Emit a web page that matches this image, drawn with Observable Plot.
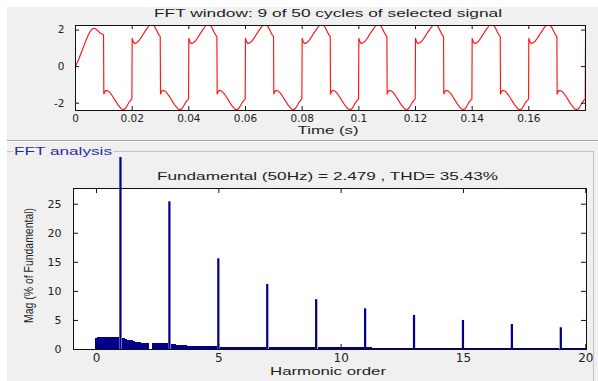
<!DOCTYPE html>
<html><head><meta charset="utf-8">
<script src="https://cdn.jsdelivr.net/npm/d3@7"></script>
<script src="https://cdn.jsdelivr.net/npm/@observablehq/plot@0.6"></script>
<style>
html,body{margin:0;padding:0;background:#fff;}
#root{position:relative;width:598px;height:381px;overflow:hidden;background:#fff;}
.panel{position:absolute;left:7px;top:7px;width:591px;height:374px;background:#f0f0f0;}
.ln{position:absolute;}
#root svg{position:absolute;left:0;}
</style></head><body><div id="root"><div class="panel"></div>
<div class="ln" style="left:7px;top:140px;width:591px;height:1px;background:#a0a0a0"></div>
<div class="ln" style="left:7px;top:141px;width:591px;height:1px;background:#ffffff"></div>
<div class="ln" style="left:7px;top:151px;width:6px;height:1px;background:#c4c4c4"></div>
<div class="ln" style="left:113px;top:151px;width:481px;height:1px;background:#c4c4c4"></div>
<div class="ln" style="left:593px;top:151px;width:1px;height:230px;background:#c4c4c4"></div>
</div>
<script>
// ---------- data: time signal (one FFT window of 9 cycles) ----------
const timeTicks = [0, 0.02, 0.04, 0.06, 0.08, 0.1, 0.12, 0.14, 0.16];
const ampTicks = [-2, 0, 2];
// first (start-up) half cycle, 0..0.01 s
const firstHalfT = [0, 0.0010, 0.0020, 0.0030, 0.0040, 0.0050, 0.0058, 0.0064, 0.0070, 0.0078, 0.0086, 0.0094, 0.0099];
const firstHalfV = [0, 0.35, 0.75, 1.15, 1.55, 1.88, 2.05, 2.10, 2.08, 1.98, 1.85, 1.78, 1.74];
// steady half cycle shape (phase within half period, s)
const halfPhase = [0, 0.0004, 0.0008, 0.0015, 0.0023, 0.0032, 0.0042, 0.0052, 0.0061, 0.0068, 0.0075, 0.0082, 0.0089, 0.0095, 0.0099];
const posHalfV  = [1.55, 1.35, 1.27, 1.30, 1.40, 1.60, 1.85, 2.08, 2.25, 2.32, 2.28, 2.12, 1.90, 1.72, 1.65];
const negHalfV  = [-1.50, -1.35, -1.30, -1.33, -1.45, -1.65, -1.90, -2.14, -2.30, -2.36, -2.31, -2.14, -1.95, -1.83, -1.78];
const nCycles = 9;

// ---------- data: FFT spectrum, bins every 1/9 harmonic (rows = one harmonic order each) ----------
const binsPerHarmonic = 9;
const fftMag = [
  1.84, 2.12, 2.13, 2.13, 2.12, 2.12, 2.10, 2.05, 1.98,
  100,  1.84, 1.75, 1.62, 1.50, 1.38, 1.27, 1.18, 1.10,
  1.04, 0.98, 0,    0.95, 0.95, 0.96, 0.98, 1.00, 1.04,
  25.4, 0.82, 0.78, 0.74, 0.70, 0.66, 0.62, 0.59, 0.57,
  0.55, 0.54, 0.53, 0.53, 0.52, 0.52, 0.52, 0.51, 0.51,
  15.6, 0.42, 0.41, 0.41, 0.40, 0.40, 0.40, 0.32, 0.31,
  0.31, 0.31, 0.30, 0.30, 0.30, 0.30, 0.30, 0.30, 0.30,
  11.2, 0.28, 0.28, 0.28, 0.28, 0.28, 0.27, 0.27, 0.27,
  0.27, 0.27, 0.27, 0.27, 0.27, 0.27, 0.27, 0.27, 0.27,
  8.57, 0.33, 0.33, 0.33, 0.33, 0.33, 0.32, 0.32, 0.32,
  0.28, 0.28, 0.28, 0.28, 0.28, 0.28, 0.28, 0.28, 0.28,
  7.0,  0.30, 0.30, 0.22, 0.22, 0.22, 0.22, 0.22, 0.22,
  0.22, 0.22, 0.22, 0.22, 0.22, 0.22, 0.22, 0.22, 0.22,
  5.86, 0.20, 0.20, 0.20, 0.20, 0.20, 0.20, 0.20, 0.20,
  0.20, 0.20, 0.20, 0.20, 0.20, 0.20, 0.20, 0.20, 0.20,
  5.0,  0.20, 0.20, 0.20, 0.20, 0.20, 0.20, 0.20, 0.20,
  0.20, 0.20, 0.20, 0.20, 0.20, 0.20, 0.20, 0.20, 0.20,
  4.3,  0.20, 0.20, 0.20, 0.20, 0.20, 0.20, 0.20, 0.20,
  0.20, 0.20, 0.20, 0.20, 0.20, 0.20, 0.20, 0.20, 0.20,
  3.74, 0.20, 0.20, 0.20, 0.20, 0.20, 0.20, 0.20, 0.20,
  0.20
];
const orderTicks = [0, 5, 10, 15, 20];
const magTicks = [0, 5, 10, 15, 20, 25];

// texts
const topTitle = "FFT window: 9 of 50 cycles of selected signal";
const topXLabel = "Time (s)";
const groupTitle = "FFT analysis";
const fftTitle = "Fundamental (50Hz) = 2.479 , THD= 35.43%";
const fftYLabel = "Mag (% of Fundamental)";
const fftXLabel = "Harmonic order";

// ---------- build tables ----------
const signal = [];
firstHalfT.forEach((t, i) => signal.push({t, v: firstHalfV[i]}));
for (let c = 0; c < nCycles; c++) {
  const t0 = c * 0.02;
  if (c > 0) halfPhase.forEach((p, i) => signal.push({t: t0 + p, v: posHalfV[i]}));
  halfPhase.forEach((p, i) => signal.push({t: t0 + 0.01 + p, v: negHalfV[i]}));
}
signal.push({t: nCycles * 0.02, v: posHalfV[0]});

const fft = fftMag.map((v, k) => ({h: k / binsPerHarmonic, v}));
const lowBins = fft.filter(d => d.v < 3);          // dense low-level spectrum (drawn contiguous)
const spikeBins = fft.filter(d => d.v >= 3 && d.v <= 27.7); // harmonic lines
const clippedBins = fft.filter(d => d.v > 27.7);   // fundamental, runs off the axes
const fullW = 0.5 / binsPerHarmonic, lineW = 0.41 / binsPerHarmonic;

const root = document.getElementById("root");
const fmt = d => String(Math.round(d * 100) / 100);
const axisStyle = {background: "transparent", fontFamily: "'DejaVu Sans', sans-serif", color: "#222"};

// ---------- top plot ----------
const tW = 598, tH = 140, tML = 75, tMR = 13, tMT = 25, tMB = 30;
const tFW = tW - tML - tMR, tFH = tH - tMT - tMB, tk = 4;
const topPlot = Plot.plot({
  width: tW, height: tH, marginLeft: tML, marginRight: tMR, marginTop: tMT, marginBottom: tMB,
  style: {...axisStyle, fontSize: "10px", overflow: "visible"},
  x: {domain: [0, 0.18]},
  y: {domain: [-2.4, 2.25]},
  marks: [
    Plot.frame({fill: "white", stroke: null}),
    Plot.line(signal, {x: "t", y: "v", stroke: "#ff1414", strokeWidth: 1.15, clip: true}),
    Plot.frame({stroke: "#111"}),
    Plot.tickX(timeTicks, {x: d => d, insetTop: tFH - tk, stroke: "#111"}),
    Plot.tickX(timeTicks, {x: d => d, insetBottom: tFH - tk, stroke: "#111"}),
    Plot.tickY(ampTicks, {y: d => d, insetRight: tFW - tk, stroke: "#111"}),
    Plot.tickY(ampTicks, {y: d => d, insetLeft: tFW - tk, stroke: "#111"}),
    Plot.axisX(timeTicks, {tickSize: 0, tickPadding: 4, label: null, tickFormat: fmt, fontSize: 10.5}),
    Plot.axisY(ampTicks, {tickSize: 0, tickPadding: 11, label: null, tickFormat: fmt, fontSize: 10.5})
  ]
});
topPlot.style.top = "0px";
root.appendChild(topPlot);

// ---------- bottom plot ----------
const bTop = 157;
const bW = 598, bH = 224, bML = 73, bMR = 12, bMT = 31, bMB = 32;
const bFW = bW - bML - bMR, bFH = bH - bMT - bMB, bk = 5;
const barColor = "#00008c";
const botPlot = Plot.plot({
  width: bW, height: bH, marginLeft: bML, marginRight: bMR, marginTop: bMT, marginBottom: bMB,
  style: {...axisStyle, fontSize: "11px", overflow: "hidden"},
  x: {domain: [-0.94, 20.03]},
  y: {domain: [0, 27.7]},
  marks: [
    Plot.frame({fill: "white", stroke: null}),
    Plot.rectY(lowBins, {x1: d => d.h - fullW, x2: d => d.h + fullW, y: "v", fill: barColor, clip: true, shapeRendering: "crispEdges"}),
    Plot.rectY(spikeBins, {x1: d => d.h - lineW, x2: d => d.h + lineW, y: "v", fill: barColor, clip: true}),
    Plot.frame({stroke: "#111"}),
    Plot.rectY(clippedBins, {x1: d => d.h - lineW, x2: d => d.h + lineW, y: "v", fill: barColor, clip: false}),
    Plot.tickX(orderTicks, {x: d => d, insetTop: bFH - bk, stroke: "#111"}),
    Plot.tickX(orderTicks, {x: d => d, insetBottom: bFH - bk, stroke: "#111"}),
    Plot.tickY(magTicks, {y: d => d, insetRight: bFW - bk, stroke: "#111"}),
    Plot.tickY(magTicks, {y: d => d, insetLeft: bFW - bk, stroke: "#111"}),
    Plot.axisX(orderTicks, {tickSize: 0, tickPadding: 4, label: null, tickFormat: fmt, fontSize: 12}),
    Plot.axisY(magTicks, {tickSize: 0, tickPadding: 12, label: null, tickFormat: fmt, fontSize: 11})
  ]
});
botPlot.style.top = bTop + "px";
root.appendChild(botPlot);

// ---------- text overlay ----------
const ov = d3.select(root).append("svg")
  .attr("width", 598).attr("height", 381)
  .style("top", "0px").style("pointer-events", "none")
  .attr("font-family", "'Liberation Sans', Arial, sans-serif");
function label(txt, x, y, size, len, opts = {}) {
  const t = ov.append("text").text(txt)
    .attr("x", x).attr("y", y)
    .attr("font-size", size)
    .attr("text-anchor", opts.anchor || "middle")
    .attr("fill", opts.fill || "#1e1e1e")
    .attr("textLength", len).attr("lengthAdjust", "spacingAndGlyphs");
  if (opts.transform) t.attr("transform", opts.transform);
  return t;
}
label(topTitle, 328, 16.5, 10.5, 348);
label(topXLabel, 328, 134, 11.5, 61);
label(groupTitle, 14, 155, 11, 98, {anchor: "start", fill: "#2a2aa8"});
label(fftTitle, 327.5, 179.5, 11, 341);
label(fftYLabel, 0, 0, 12.5, 115, {transform: "translate(33,265.5) rotate(-90)"});
label(fftXLabel, 328, 374.5, 11.5, 116);
</script></body></html>
